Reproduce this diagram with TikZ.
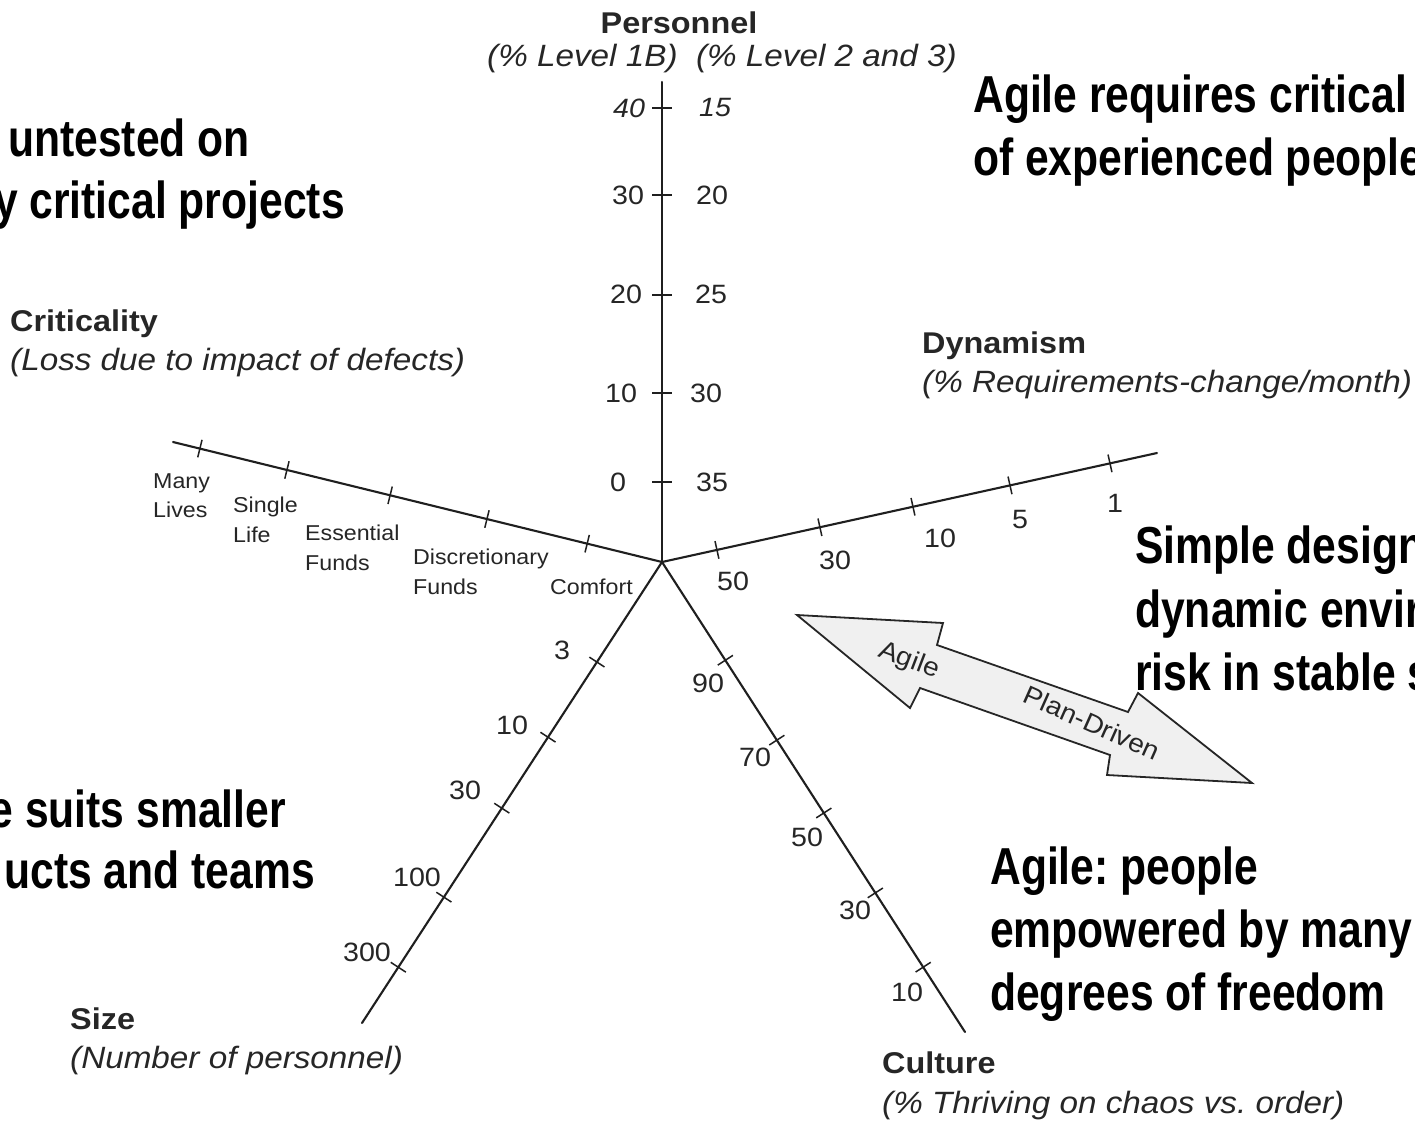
\documentclass[tikz,border=0pt]{standalone}
\usepackage{fontspec}
\setmainfont{Liberation Sans}
\newfontfamily\scanfont[FakeStretch=1.08]{Liberation Sans}
\newfontfamily\narrowfont[FakeStretch=0.82]{Liberation Sans}
\usetikzlibrary{calc}
\definecolor{inkgray}{HTML}{262626}
\definecolor{arrowfill}{HTML}{F0F0F0}
\frenchspacing
\begin{document}
\begin{tikzpicture}[x=1pt,y=-1pt,
  axisline/.style={line width=2.1pt, draw=black!88, line cap=round},
  tickline/.style={line width=1.5pt, draw=black!88},
  bigtext/.style={inner sep=0pt, anchor=base west, text=black,
    font=\narrowfont\bfseries\fontsize{52}{62}\selectfont},
  axtitle/.style={inner sep=0pt, anchor=base west, text=inkgray,
    font=\scanfont\bfseries\fontsize{30}{36}\selectfont},
  axsub/.style={inner sep=0pt, anchor=base west, text=inkgray,
    font=\scanfont\itshape\fontsize{30.8}{36}\selectfont},
  catlabel/.style={inner sep=0pt, anchor=base west, text=inkgray,
    font=\scanfont\fontsize{21.5}{26}\selectfont},
  numlabel/.style={inner sep=0pt, text=inkgray,
    font=\scanfont\fontsize{26.5}{30}\selectfont},
  arrowlabel/.style={inner sep=0pt, text=inkgray,
    font=\scanfont\fontsize{26}{30}\selectfont},
]
\useasboundingbox (0,0) rectangle (1415,1128);
\fill[white] (0,0) rectangle (1415,1128);
\clip (0,0) rectangle (1415,1128);

% ---------- axes ----------
\coordinate (O) at (662,562);
\coordinate (EP) at (662,82);
\coordinate (EC) at (173,442);
\coordinate (ED) at (1157,453);
\coordinate (ES) at (362,1023);
\coordinate (EU) at (965,1032);

\draw[axisline] (O) -- (EP);
\draw[axisline] (O) -- (EC);
\draw[axisline] (O) -- (ED);
\draw[axisline] (O) -- (ES);
\draw[axisline] (O) -- (EU);

\foreach \t in {0.167,0.352,0.556,0.765,0.946}
  \draw[tickline] ($(O)!\t!(EP)!10pt!90:(EP)$) -- ($(O)!\t!(EP)!10pt!-90:(EP)$);
\foreach \t in {0.153,0.358,0.556,0.767,0.945}
  \draw[tickline] ($(O)!\t!(EC)!9pt!90:(EC)$) -- ($(O)!\t!(EC)!9pt!-90:(EC)$);
\foreach \t in {0.111,0.319,0.507,0.703,0.905}
  \draw[tickline] ($(O)!\t!(ED)!9pt!90:(ED)$) -- ($(O)!\t!(ED)!9pt!-90:(ED)$);
\foreach \t in {0.217,0.380,0.534,0.727,0.879}
  \draw[tickline] ($(O)!\t!(ES)!9pt!90:(ES)$) -- ($(O)!\t!(ES)!9pt!-90:(ES)$);
\foreach \t in {0.209,0.379,0.534,0.704,0.862}
  \draw[tickline] ($(O)!\t!(EU)!9pt!90:(EU)$) -- ($(O)!\t!(EU)!9pt!-90:(EU)$);

% ---------- axis titles ----------
\node[axtitle, anchor=base] (pers) at (679,33) {Personnel};
\node[axsub] (perssub) at (487,66) {(\% Level 1B)\ \ (\% Level 2 and 3)};
\node[axtitle] (crit) at (10,331) {Criticality};
\node[axsub] (critsub) at (10,370) {(Loss due to impact of defects)};
\node[axtitle] (dyn) at (922,353) {Dynamism};
\node[axsub] (dynsub) at (922,392) {(\% Requirements-change/month)};
\node[axtitle] (size) at (70,1029) {Size};
\node[axsub] (sizesub) at (70,1068) {(Number of personnel)};
\node[axtitle] (cult) at (882,1073) {Culture};
\node[axsub] (cultsub) at (882,1113) {(\% Thriving on chaos vs. order)};

% ---------- personnel numbers ----------
\node[numlabel, font=\scanfont\itshape\fontsize{26.5}{30}\selectfont] (pl40) at (629,108) {40};
\node[numlabel] (pl30) at (628,195) {30};
\node[numlabel] (pl20) at (626,294) {20};
\node[numlabel] (pl10) at (621,393) {10};
\node[numlabel] (pl0) at (618,482) {0};
\node[numlabel, font=\scanfont\itshape\fontsize{26.5}{30}\selectfont] (pr15) at (715,108) {15};
\node[numlabel] (pr20) at (712,195) {20};
\node[numlabel] (pr25) at (711,294) {25};
\node[numlabel] (pr30) at (706,393) {30};
\node[numlabel] (pr35) at (712,482) {35};

% ---------- criticality categories ----------
\node[catlabel] (c1a) at (153,488) {Many};
\node[catlabel] (c1b) at (153,517) {Lives};
\node[catlabel] (c2a) at (233,512) {Single};
\node[catlabel] (c2b) at (233,542) {Life};
\node[catlabel] (c3a) at (305,540) {Essential};
\node[catlabel] (c3b) at (305,570) {Funds};
\node[catlabel] (c4a) at (413,564) {Discretionary};
\node[catlabel] (c4b) at (413,594) {Funds};
\node[catlabel] (c5) at (550,594) {Comfort};

% ---------- dynamism numbers ----------
\node[numlabel] (d50) at (733,581) {50};
\node[numlabel] (d30) at (835,560) {30};
\node[numlabel] (d10) at (940,538) {10};
\node[numlabel] (d5) at (1020,520) {5};
\node[numlabel] (d1) at (1115,503) {1};

% ---------- size numbers ----------
\node[numlabel] (s3) at (562,650) {3};
\node[numlabel] (s10) at (512,725) {10};
\node[numlabel] (s30) at (465,790) {30};
\node[numlabel] (s100) at (417,877) {100};
\node[numlabel] (s300) at (367,952) {300};

% ---------- culture numbers ----------
\node[numlabel] (u90) at (708,683) {90};
\node[numlabel] (u70) at (755,757) {70};
\node[numlabel] (u50) at (807,837) {50};
\node[numlabel] (u30) at (855,910) {30};
\node[numlabel] (u10) at (907,992) {10};

% ---------- double arrow ----------
\draw[line width=1.8pt, draw=black!85, fill=arrowfill, line join=miter]
  (797,615) -- (943,623) -- (937,645) -- (1128,712) -- (1138,693)
  -- (1252,783) -- (1107,775) -- (1110,755) -- (920,688) -- (910,708) -- cycle;
\node[arrowlabel, rotate=-21] (agl) at (909,661) {Agile};
\node[arrowlabel, rotate=-24] (pdl) at (1092,723) {Plan-Driven};

% ---------- annotations ----------
\node[bigtext, anchor=base east] (t1a) at (250,156) {untested on};
\node[bigtext, anchor=base east] (t1b) at (345,218) {y critical projects};
\node[bigtext] (t2a) at (973,112) {Agile requires critical};
\node[bigtext] (t2b) at (973,175) {of experienced people};
\node[bigtext] (t3a) at (1135,563) {Simple design};
\node[bigtext] (t3b) at (1135,627) {dynamic envir};
\node[bigtext] (t3c) at (1135,690) {risk in stable s};
\node[bigtext, anchor=base east] (t4a) at (286,827) {e suits smaller};
\node[bigtext, anchor=base east] (t4b) at (315,888) {ucts and teams};
\node[bigtext] (t5a) at (990,884) {Agile: people};
\node[bigtext] (t5b) at (990,947) {empowered by many};
\node[bigtext] (t5c) at (990,1010) {degrees of freedom};
\end{tikzpicture}
\end{document}
